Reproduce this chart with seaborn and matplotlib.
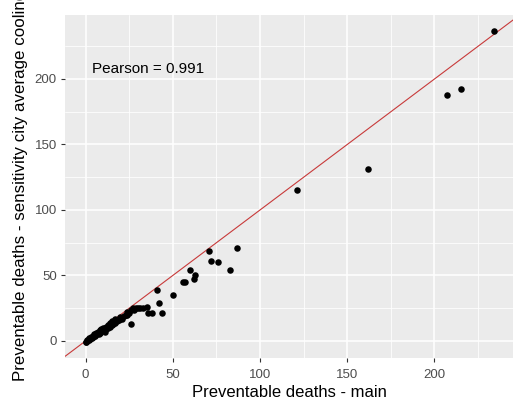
import matplotlib
matplotlib.use("Agg")
import matplotlib.pyplot as plt
import seaborn as sns
import pandas as pd

# preventable deaths, main analysis vs sensitivity (city average cooling)
main_deaths = [0, 0.5, 1, 1, 1.5, 2, 2, 2.5, 3, 3, 3.5, 4, 4, 4.5, 5, 5, 5.5, 6, 6, 6.5,
               7, 7, 7.5, 8, 8, 8.5, 9, 9, 10, 10, 10.5, 11, 11, 12, 12, 13, 13, 14, 14, 15,
               15, 16, 17, 17, 18, 19, 20, 21, 22, 23, 24, 24, 25, 26, 26, 27, 28, 29, 30, 31,
               33, 35, 36, 38, 41, 42, 44, 50, 56, 57, 60, 62, 63, 71, 72, 76, 83, 87,
               121, 162, 207, 215, 234]
sens_deaths = [-1, -0.5, 0, 1, 0.5, 1, 2, 1.5, 2, 3, 2.5, 3, 4, 3.5, 4, 5, 4, 5, 6, 5,
               6, 7, 5.5, 7, 8, 6, 8, 9, 8, 10, 9, 7, 10, 9, 11, 10, 12, 11, 14, 12,
               15, 13, 14, 17, 15, 16, 18, 17, 19, 20, 20, 22, 21, 13, 24, 25, 24, 25, 25, 25,
               25, 26, 21, 21, 39, 29, 21, 35, 45, 45, 54, 47, 50, 69, 61, 60, 54, 71,
               115, 131, 188, 192, 237]

df = pd.DataFrame({"main": main_deaths, "sens": sens_deaths})
pearson = 0.991

sns.set_theme(style="darkgrid", rc={
    "axes.facecolor": "#EBEBEB",
    "grid.color": "white",
    "axes.edgecolor": "#EBEBEB",
})
plt.rcParams["font.family"] = ["Liberation Sans", "DejaVu Sans"]

fig = plt.figure(figsize=(5.13, 4.11), dpi=100)
ax = fig.add_axes([0.127, 0.129, 0.873, 0.835])

sns.scatterplot(data=df, x="main", y="sens", color="black", s=22, linewidth=0, ax=ax, zorder=3)
ax.axline((0, 0), slope=1, color="#C83A3A", lw=0.8, zorder=2)

ax.text(35.7, 208, f"Pearson = {pearson}", ha="center", va="center", fontsize=11, color="black")

ax.set_xlim(-11.7, 245)
ax.set_ylim(-13, 249)
ax.set_xticks([0, 50, 100, 150, 200])
ax.set_yticks([0, 50, 100, 150, 200])
ax.set_xticks([25, 75, 125, 175, 225], minor=True)
ax.set_yticks([25, 75, 125, 175, 225], minor=True)
ax.grid(which="major", color="white", lw=1.1)
ax.grid(which="minor", color="white", lw=0.55)
ax.tick_params(which="major", length=3, width=0.8, color="#333333", labelcolor="#4D4D4D",
               labelsize=9.5, pad=3, bottom=True, left=True)
ax.tick_params(axis="x", pad=5)
ax.tick_params(which="minor", length=0)
for s in ax.spines.values():
    s.set_visible(False)

ax.set_xlabel("Preventable deaths - main", fontsize=12, color="black", labelpad=3)
ax.set_ylabel("Preventable deaths - sensitivity city average cooling", fontsize=12.2,
              color="black")
ax.yaxis.set_label_coords(-0.082, 0.5)

fig.savefig("out.png", dpi=100)
